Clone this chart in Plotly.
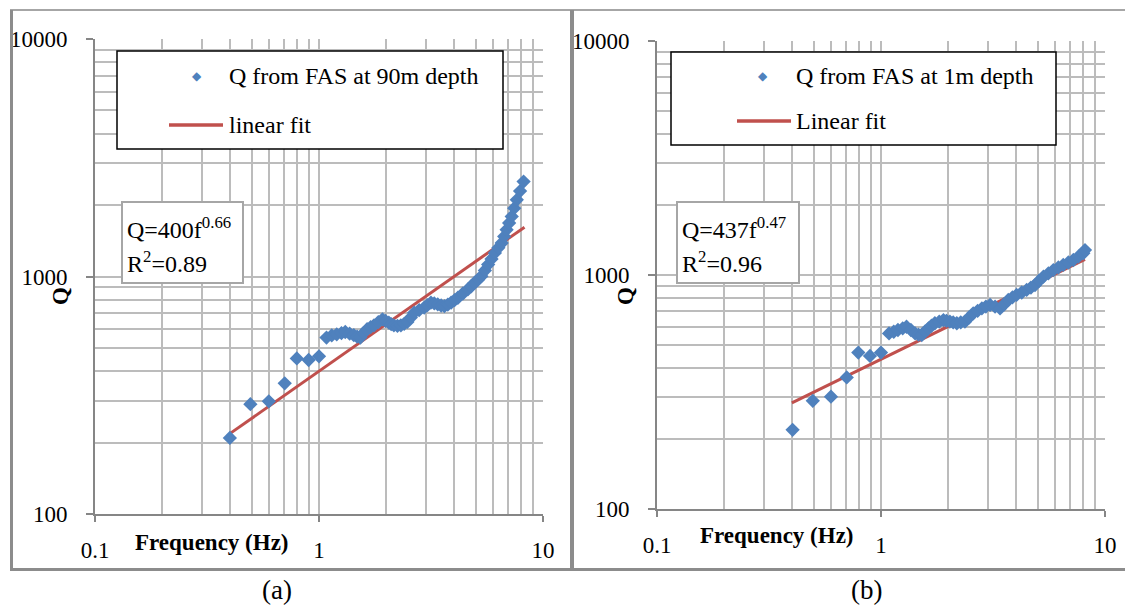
import plotly.graph_objects as go

# ---------------- data ----------------
freq_a = [0.40, 0.494, 0.597, 0.703, 0.796, 0.899, 1.00, 1.08, 1.14, 1.20, 1.26, 1.31, 1.37,
          1.43, 1.48, 1.53, 1.58, 1.64, 1.70, 1.76, 1.84, 1.92, 1.98, 2.05, 2.10, 2.16, 2.24,
          2.32, 2.40, 2.48, 2.57, 2.66, 2.80, 2.95, 3.05, 3.16, 3.27, 3.39, 3.51, 3.63, 3.76,
          3.89, 4.03, 4.17, 4.39, 4.62, 4.78, 4.95, 5.13, 5.31, 5.50, 5.69, 5.89, 6.10, 6.32,
          6.54, 6.71, 6.88, 7.06, 7.25, 7.44, 7.64, 7.90, 8.19]
q_a = [209, 290, 298, 355, 452, 445, 461, 553, 565, 571, 578, 584, 575,
       566, 558, 553, 578, 600, 612, 623, 642, 660, 650, 640, 630, 623, 620,
       623, 632, 644, 672, 704, 722, 739, 758, 776, 770, 763, 755, 750, 762,
       776, 795, 814, 848, 882, 910, 941, 970, 1003, 1060, 1123, 1185, 1257, 1320,
       1384, 1475, 1574, 1680, 1790, 1940, 2104, 2290, 2510]
fit_a_f = [0.40, 8.27]
fit_a_q = [218, 1613]

freq_b = [0.403, 0.496, 0.598, 0.703, 0.792, 0.893, 1.00, 1.086, 1.14, 1.19, 1.25, 1.30, 1.36,
          1.42, 1.47, 1.52, 1.57, 1.63, 1.68, 1.74, 1.82, 1.90, 1.96, 2.03, 2.10, 2.18, 2.27,
          2.37, 2.47, 2.58, 2.70, 2.82, 2.94, 3.07, 3.23, 3.40, 3.55, 3.70, 3.86, 4.03, 4.25,
          4.47, 4.67, 4.87, 5.08, 5.31, 5.59, 5.88, 6.19, 6.51, 6.86, 7.22, 7.60, 8.00, 8.14]
q_b = [218, 290, 302, 365, 466, 451, 466, 563, 572, 582, 592, 601, 582,
       563, 556, 554, 573, 592, 607, 622, 632, 642, 637, 632, 627, 622, 627,
       632, 658, 686, 703, 720, 733, 745, 732, 720, 750, 782, 802, 822, 842,
       863, 884, 906, 945, 984, 1017, 1050, 1077, 1104, 1131, 1159, 1198, 1238, 1278]
fit_b_f = [0.40, 8.14]
fit_b_q = [284, 1165]

x_ticks = [0.1, 1, 10]
x_tick_text = ["0.1", "1", "10"]
y_ticks = [100, 1000, 10000]
y_tick_text = ["100", "1000", "10000"]
x_minor = [0.2, 0.3, 0.4, 0.5, 0.6, 0.7, 0.8, 0.9, 2, 3, 4, 5, 6, 7, 8, 9]
y_minor = [200, 300, 400, 500, 600, 700, 800, 900, 2000, 3000, 4000, 5000, 6000, 7000, 8000, 9000]

legend_a = ["Q from FAS at 90m depth", "linear fit"]
legend_b = ["Q from FAS at 1m depth", "Linear fit"]
eq_a = ["Q=400f<sup>0.66</sup>", "R<sup>2</sup>=0.89"]
eq_b = ["Q=437f<sup>0.47</sup>", "R<sup>2</sup>=0.96"]
panel_labels = ["(a)", "(b)"]

# ---------------- styling ----------------
W, H = 1125, 605
BLUE = "#4F81BD"
RED = "#C0504D"
GRID = "#BCBCBC"
AXIS = "#868686"
FONT = "Liberation Serif"


def X(px):
    return px / W


def Y(py):
    return 1 - py / H


fig = go.Figure()

for (fx, fy, ff, fq, xa, ya) in [
    (freq_a, q_a, fit_a_f, fit_a_q, "x", "y"),
    (freq_b, q_b, fit_b_f, fit_b_q, "x2", "y2"),
]:
    fig.add_trace(go.Scatter(x=ff, y=fq, mode="lines", xaxis=xa, yaxis=ya,
                             line=dict(color=RED, width=3), showlegend=False))
    fig.add_trace(go.Scatter(x=fx, y=fy, mode="markers", xaxis=xa, yaxis=ya,
                             marker=dict(symbol="diamond", size=11, color=BLUE,
                                         line=dict(width=0)),
                             showlegend=False))


def xaxis_cfg(x0, x1, anchor):
    return dict(type="log", range=[-1, 1], domain=[X(x0), X(x1)], anchor=anchor,
                automargin=False,
                tickmode="array", tickvals=x_ticks, ticktext=x_tick_text,
                ticks="outside", ticklen=6, tickcolor=AXIS, tickwidth=1.5,
                ticklabelstandoff=8,
                tickfont=dict(family=FONT, size=23, color="black"),
                showgrid=True, gridcolor=GRID, gridwidth=1.5,
                showline=True, linecolor=AXIS, linewidth=2, zeroline=False,
                minor=dict(tickmode="array", tickvals=x_minor, showgrid=True,
                           gridcolor=GRID, gridwidth=1.5, ticks=""))


def yaxis_cfg(y0, y1, anchor):
    return dict(type="log", range=[2, 4], domain=[Y(y1), Y(y0)], anchor=anchor,
                automargin=False,
                tickmode="array", tickvals=y_ticks, ticktext=y_tick_text,
                ticks="outside", ticklen=7, tickcolor=AXIS, tickwidth=1.5,
                ticklabelstandoff=14,
                tickfont=dict(family=FONT, size=23, color="black"),
                showgrid=True, gridcolor=GRID, gridwidth=1.5,
                showline=True, linecolor=AXIS, linewidth=2, zeroline=False,
                minor=dict(tickmode="array", tickvals=y_minor, showgrid=True,
                           gridcolor=GRID, gridwidth=1.5, ticks=""))


shapes = []
annotations = []

# panel frames
frame = "#8C8C8C"
shapes += [
    dict(type="line", xref="paper", yref="paper", x0=X(10), x1=X(1125), y0=Y(10), y1=Y(10),
         line=dict(color="#A6A6A6", width=2)),
    dict(type="line", xref="paper", yref="paper", x0=X(11.5), x1=X(11.5), y0=Y(10), y1=Y(570),
         line=dict(color=frame, width=3)),
    dict(type="line", xref="paper", yref="paper", x0=X(572), x1=X(572), y0=Y(10), y1=Y(570),
         line=dict(color=frame, width=4)),
    dict(type="line", xref="paper", yref="paper", x0=X(10), x1=X(1125), y0=Y(569.5), y1=Y(569.5),
         line=dict(color=frame, width=3)),
]


def add_panel(leg_box, mk_xy, txt_x, row1_y, line_x, row2_y, legend_texts,
              eq_box, eq_texts, xtitle_xy, ytitle_xy, label_xy, label):
    x0, y0, x1, y1 = leg_box
    shapes.append(dict(type="rect", xref="paper", yref="paper", x0=X(x0), x1=X(x1),
                       y0=Y(y1), y1=Y(y0), line=dict(color="black", width=1.5),
                       fillcolor="white", layer="above"))
    annotations.append(dict(xref="paper", yref="paper", x=X(mk_xy[0]), y=Y(mk_xy[1]),
                            text="◆", showarrow=False, xanchor="center", yanchor="middle",
                            font=dict(family="DejaVu Sans", size=12, color=BLUE)))
    annotations.append(dict(xref="paper", yref="paper", x=X(txt_x), y=Y(row1_y),
                            text=legend_texts[0], showarrow=False, xanchor="left",
                            yanchor="middle", font=dict(family=FONT, size=24, color="black")))
    shapes.append(dict(type="line", xref="paper", yref="paper", x0=X(line_x[0]), x1=X(line_x[1]),
                       y0=Y(row2_y), y1=Y(row2_y), line=dict(color=RED, width=3.5),
                       layer="above"))
    annotations.append(dict(xref="paper", yref="paper", x=X(txt_x), y=Y(row2_y),
                            text=legend_texts[1], showarrow=False, xanchor="left",
                            yanchor="middle", font=dict(family=FONT, size=24, color="black")))
    ex0, ey0, ex1, ey1 = eq_box
    shapes.append(dict(type="rect", xref="paper", yref="paper", x0=X(ex0), x1=X(ex1),
                       y0=Y(ey1), y1=Y(ey0), line=dict(color="#A6A6A6", width=2),
                       fillcolor="white", layer="above"))
    annotations.append(dict(xref="paper", yref="paper", x=X(ex0 + 3), y=Y(ey0 + 26),
                            text=eq_texts[0], showarrow=False, xanchor="left",
                            yanchor="middle", font=dict(family=FONT, size=24, color="black")))
    annotations.append(dict(xref="paper", yref="paper", x=X(ex0 + 3), y=Y(ey0 + 60),
                            text=eq_texts[1], showarrow=False, xanchor="left",
                            yanchor="middle", font=dict(family=FONT, size=24, color="black")))
    annotations.append(dict(xref="paper", yref="paper", x=X(xtitle_xy[0]), y=Y(xtitle_xy[1]),
                            text="<b>Frequency (Hz)</b>", showarrow=False, xanchor="center",
                            yanchor="middle", font=dict(family=FONT, size=23, color="black")))
    annotations.append(dict(xref="paper", yref="paper", x=X(ytitle_xy[0]), y=Y(ytitle_xy[1]),
                            text="<b>Q</b>", showarrow=False, textangle=-90, xanchor="center",
                            yanchor="middle", font=dict(family=FONT, size=23, color="black")))
    annotations.append(dict(xref="paper", yref="paper", x=X(label_xy[0]), y=Y(label_xy[1]),
                            text=label, showarrow=False, xanchor="center",
                            yanchor="middle", font=dict(family=FONT, size=27, color="black")))


add_panel((117, 51, 503, 149), (197, 76), 227, 76, (169, 223), 125, legend_a,
          (122, 202, 243, 283), eq_a, (212, 542), (60, 296), (277, 590), panel_labels[0])
add_panel((671, 52, 1056, 145), (763, 76), 794, 76, (737, 791), 121, legend_b,
          (677, 202, 799, 283), eq_b, (777, 535), (625, 296), (866, 590), panel_labels[1])

fig.update_layout(
    width=W, height=H, autosize=False,
    margin=dict(l=0, r=0, t=0, b=0, autoexpand=False),
    paper_bgcolor="white", plot_bgcolor="white",
    xaxis=xaxis_cfg(95, 543, "y"),
    yaxis=yaxis_cfg(39, 514, "x"),
    xaxis2=xaxis_cfg(657, 1105, "y2"),
    yaxis2=yaxis_cfg(41, 509, "x2"),
    shapes=shapes,
    annotations=annotations,
    showlegend=False,
)

fig.write_html("out.html")
